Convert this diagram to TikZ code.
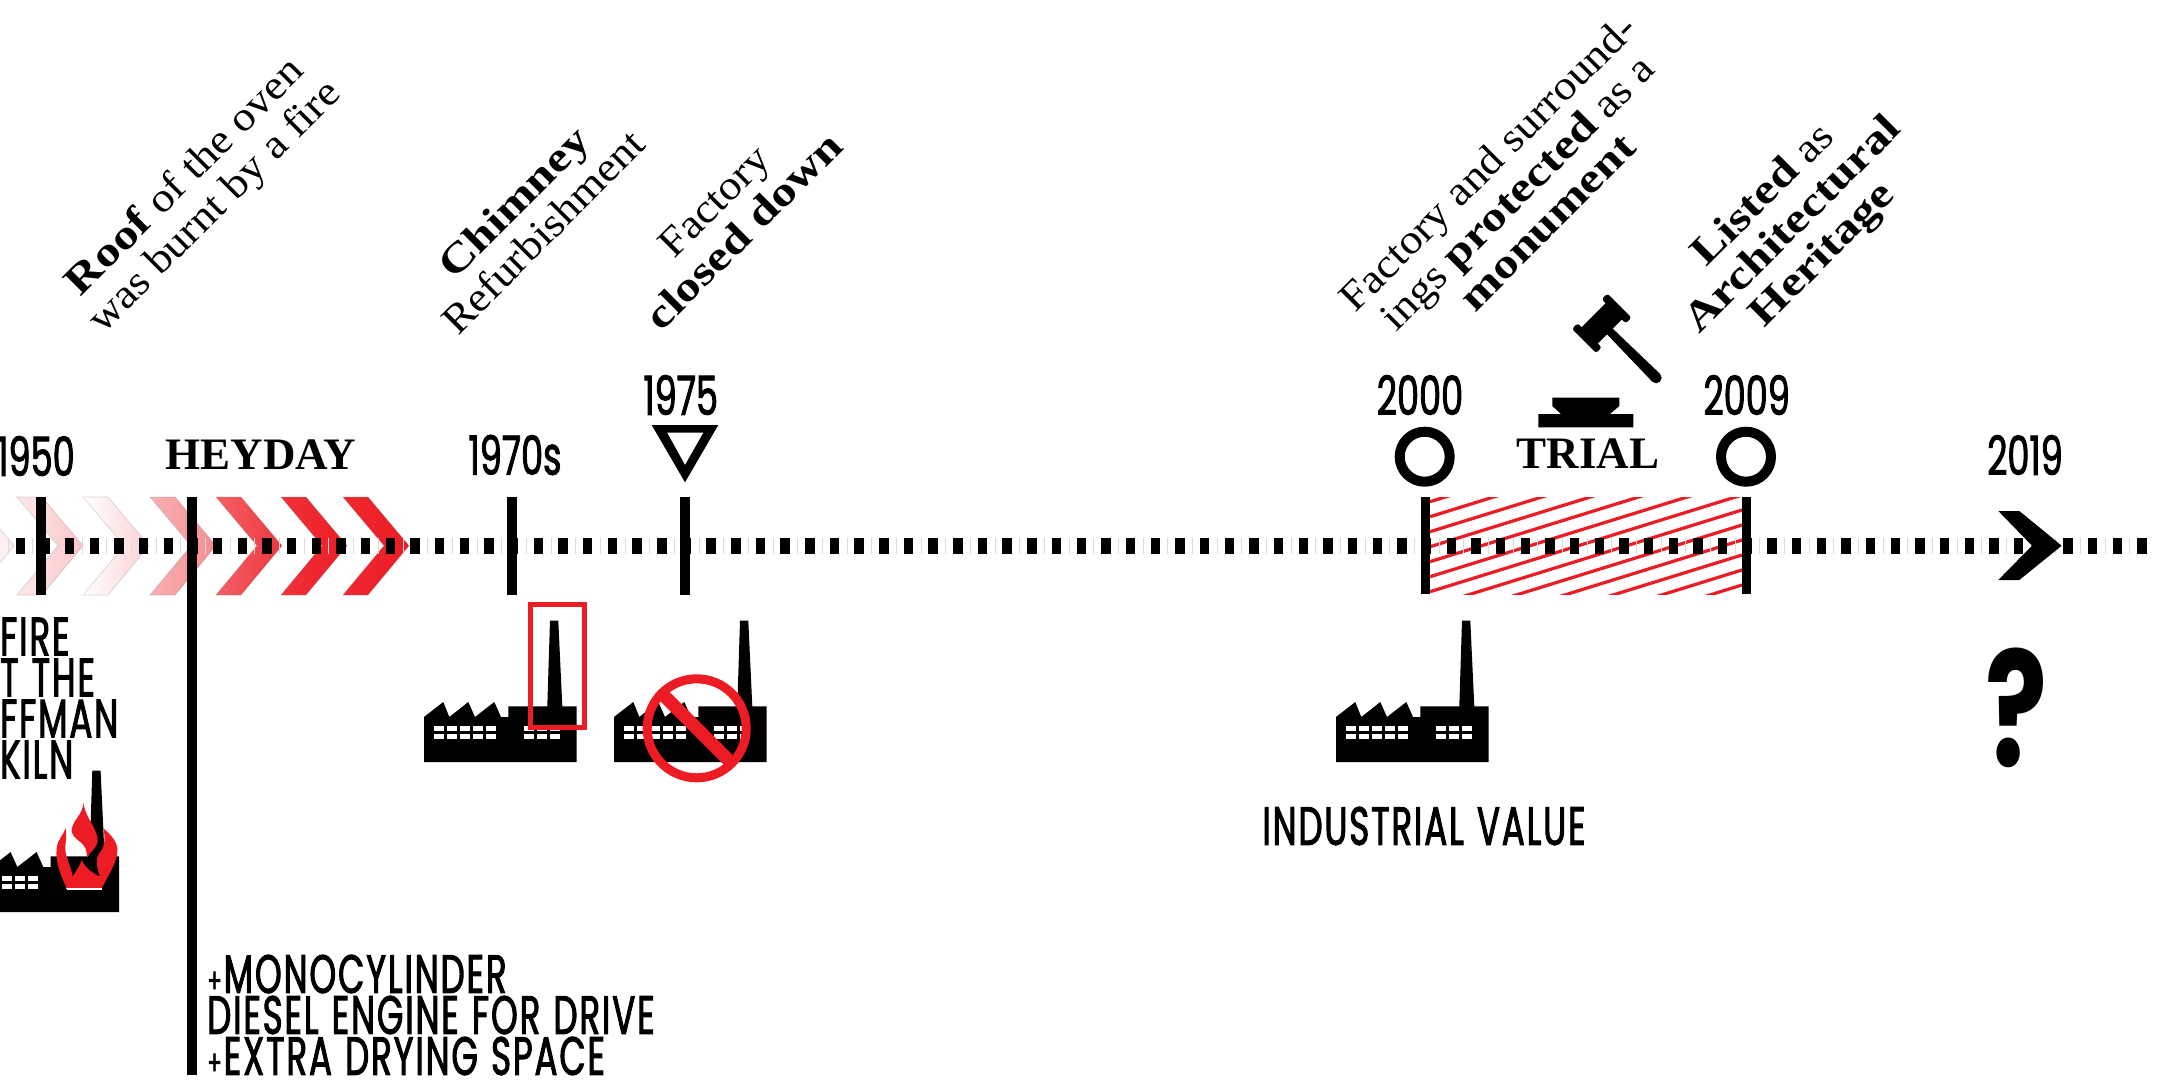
\documentclass[tikz,border=0pt]{standalone}
\usepackage{fontspec}
\setmainfont{Liberation Serif}
\newfontfamily\cond[FakeStretch=0.65,FakeBold=1.6]{Poppins}
\newfontfamily\capsf[FakeStretch=0.63,FakeBold=1.8,LetterSpace=3.5,WordSpace=1.2]{Poppins}
\newfontfamily\qsf[FakeStretch=0.72]{Poppins}
\newfontfamily\slant[FakeStretch=1.1,BoldFeatures={FakeStretch=1.22}]{Liberation Serif}
\usetikzlibrary{shapes.geometric}
\definecolor{rd}{HTML}{ED1C24}
\tikzset{
  year/.style={font=\cond\fontsize{54}{54}\selectfont,inner sep=0pt},
  capline/.style={font=\capsf\fontsize{54}{41}\selectfont,inner sep=0pt,align=left},
  head/.style={font=\bfseries\fontsize{45}{45}\selectfont,inner sep=0pt},
  note/.style={font=\slant\fontsize{41}{42}\selectfont,inner sep=0pt,align=center,rotate=45},
  tick/.style={line width=9.5pt,black},
  ring/.style={line width=10pt,black},
}
\newcommand{\smallplus}{{\fontsize{34}{41}\selectfont+\kern2pt}}
\newcommand{\factoryshape}{%
  \fill[black] (0,-45)--(19.3,-60)--(25.3,-45)--(44.3,-60)--(51,-45)--(70.3,-60)--(77,-45)--(84.3,-45)--(84.3,-55.7)--(123.3,-55.7)--(126,-141.3)--(134.3,-141.3)--(138.3,-55.7)--(152.7,-55.7)--(152.7,0)--(0,0)--cycle;
  \foreach \wx in {10,23,36,48.7,61.7}{
    \fill[white] (\wx,-35.7) rectangle ++(10,5);
    \fill[white] (\wx,-28.3) rectangle ++(10,5.3);}
  \foreach \wx in {100,113,126}{
    \fill[white] (\wx,-35.7) rectangle ++(10,5);
    \fill[white] (\wx,-28.3) rectangle ++(10,5.3);}
}
\newcommand{\chev}[3]{% left x, left colour, right colour
  \shade[left color=#2,right color=#3,draw=gray,draw opacity=.3,line width=.7pt]
   (#1,497)--(#1+25,497)--(#1+66,545.7)--(#1+25,595)--(#1,595)--(#1+41,545.7)--cycle;}
\begin{document}
\begin{tikzpicture}[x=1pt,y=-1pt]
\useasboundingbox (0,0) rectangle (2169,1082);
\clip (0,0) rectangle (2169,1082);
\fill[white] (0,0) rectangle (2169,1082);
% chevrons
\chev{-52}{white}{rd!8}
\chev{17}{rd!10}{rd!25}
\chev{83}{white}{rd!20}
\chev{150}{rd!35}{rd!50}
\chev{216}{rd!70}{rd!88}
\chev{281}{rd!90}{rd}
\chev{343}{rd!95}{rd}
% hatched span
\begin{scope}
\clip (1430,497) rectangle (1742,594);
\foreach \k in {-1,...,12}{
  \draw[rd,line width=3.2pt] (1430,516.7+15*\k) -- (1742,516.7+15*\k-96.7);}
\end{scope}
% dotted time line
\foreach \k in {0,...,86}{
  \fill[black!14] ({2142-24.67*\k-12.6},538) rectangle ++(.8,16);
  \fill[black] ({2142-24.67*\k-4.7},538) rectangle ++(9.4,16);}
% ticks
\draw[tick] (41,497) -- (41,595);
\draw[tick] (192,497) -- (192,1075);
\draw[tick] (512,497) -- (512,595);
\draw[tick] (685,497) -- (685,595);
\draw[tick] (1425.3,497) -- (1425.3,594);
\draw[tick] (1746.7,497) -- (1746.7,594);
% years
\node[year] (y1950) at (36,456) {1950};
\node[year] (y1970) at (515,455) {1970s};
\node[year] (y1975) at (680.7,395) {1975};
\node[year] (y2000) at (1420,395) {2000};
\node[year] (y2009) at (1746.7,395) {2009};
\node[year] (y2019) at (2025,455) {2019};
\node[head] (heyday) at (261,455) {HEYDAY};
\node[head] (trial) at (1588,454) {TRIAL};
% markers
\fill[black,even odd rule] (651.7,425)--(718.3,425)--(685,482.3)--cycle (667,432.5)--(703.5,432.5)--(685,465)--cycle;
\draw[ring] (1424.7,456.7) circle (25);
\draw[ring] (1746,456.7) circle (25);
\fill[black] (1998.3,511)--(2019.3,511)--(2061.7,545.7)--(2019.3,580)--(1998.3,580)--(2032,545.7)--cycle;
% factories
\begin{scope}[shift={(424,762)}]\factoryshape\end{scope}
\begin{scope}[shift={(614,762)}]\factoryshape\end{scope}
\begin{scope}[shift={(1336,762)}]\factoryshape\end{scope}
\begin{scope}[shift={(-33.7,912)}]\factoryshape\end{scope}
% refurbished chimney box
\draw[rd,line width=5pt] (530.5,604.5) rectangle (584.5,727.5);
% prohibition sign
\draw[rd,line width=9pt] (696.7,728.3) circle (49.5);
\draw[rd,line width=13pt] (661.7,693.3) -- (731.7,763.3);
% fire on the kiln
\begin{scope}[shift={(0,760)},scale=1/3]
\fill[rd] (200,385) .. controls (185,350) and (165,310) .. (170,265) .. controls (172,240) and (190,225) .. (197,205)
  .. controls (203,235) and (190,260) .. (200,290) .. controls (207,310) and (215,330) .. (218,350)
  .. controls (225,335) and (240,320) .. (245,300) .. controls (255,325) and (280,340) .. (300,350)
  .. controls (290,320) and (285,300) .. (298,280) .. controls (312,265) and (318,240) .. (310,205)
  .. controls (335,225) and (355,250) .. (352,275) .. controls (350,310) and (325,345) .. (305,385) -- cycle;
\draw[black,line width=3pt] (285,240) .. controls (282,260) and (270,275) .. (268,295);
\fill[rd] (250,128) .. controls (250,165) and (212,185) .. (215,215)
  .. controls (222,245) and (265,245) .. (260,292) .. controls (272,275) and (297,258) .. (293,235)
  .. controls (285,195) and (255,170) .. (250,128) -- cycle;
\fill[white] (200,383) rectangle (305,389);
\end{scope}
% gavel
\begin{scope}[shift={(1601.7,323.3)},rotate=-45]
\fill[black] (10,-4) -- (77,-5.5) arc[start angle=-90,end angle=90,radius=5.5] -- (10,4) -- cycle;
\fill[black] (-11.5,-20) rectangle (11.5,20);
\fill[black,rounded corners=2.5pt] (-17,-25) rectangle (17,-17);
\fill[black,rounded corners=2.5pt] (-17,17) rectangle (17,25);
\end{scope}
\fill[black] (1552.3,397.7)--(1619.3,397.7)--(1619.3,406)--(1610,414)--(1633.3,414)--(1633.3,427.3)--(1538.3,427.3)--(1538.3,414)--(1561,414)--(1552.3,406)--cycle;
% captions
\node[capline,anchor=west] (fire) at (0,698) {FIRE\\T THE\\FFMAN\\KILN};
\node[capline,anchor=west] (engine) at (207,1015) {\smallplus MONOCYLINDER\\DIESEL ENGINE FOR DRIVE\\\smallplus EXTRA DRYING SPACE};
\node[capline] (value) at (1424,826) {INDUSTRIAL VALUE};
\node[font=\qsf\bfseries\fontsize{160}{160}\selectfont,inner sep=0pt] (quest) at (2016,708) {?};
% slanted notes
\node[note] (n1) at (201,193) {\textbf{Roof} of the oven\\was burnt by a fire};
\node[note] (n2) at (528,217) {\textbf{Chimney}\\Refurbishment};
\node[note] (n3) at (729,216) {Factory\\\textbf{closed down}};
\node[note] (n4) at (1517,192) {Factory and surround-\\ings \textbf{protected} as a\\\textbf{monument}};
\node[note] (n5) at (1794,226) {\textbf{Listed} as\\\textbf{Architectural}\\\textbf{Heritage}};
\end{tikzpicture}
\end{document}
